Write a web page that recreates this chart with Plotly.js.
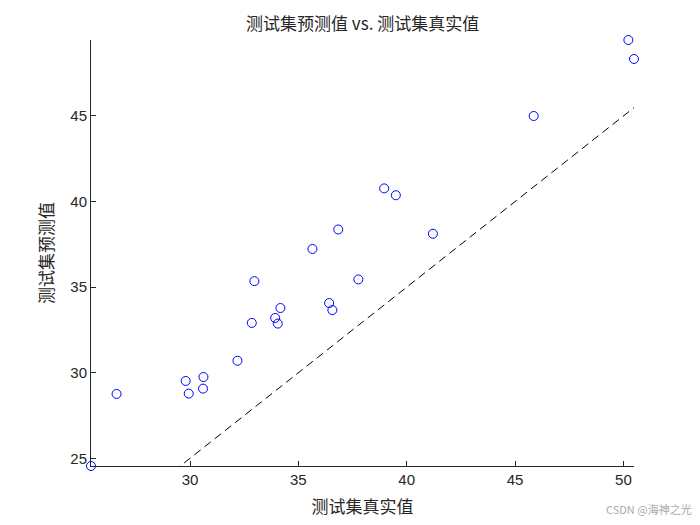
<!DOCTYPE html>
<html>
<head>
<meta charset="utf-8">
<script src="https://cdn.plot.ly/plotly-3.0.1.min.js"></script>
<style>html,body{margin:0;padding:0;background:#fff;}#chart{width:700px;height:525px;}</style>
</head>
<body>
<div id="chart"></div>
<script>
// True values (x) and predicted values (y)
const trueVals = [50.23, 50.49, 45.86, 38.96, 39.50, 36.84, 35.65, 41.21, 32.97, 37.77,
                  36.42, 36.57, 34.17, 33.93, 34.05, 32.85, 32.19, 26.61, 29.80, 30.62,
                  29.94, 30.60, 25.43];
const predVals = [49.44, 48.33, 45.00, 40.77, 40.37, 38.37, 37.23, 38.12, 35.35, 35.45,
                  34.07, 33.66, 33.78, 33.20, 32.87, 32.91, 30.70, 28.76, 29.52, 29.75,
                  28.78, 29.07, 24.55];
// Reference dashed line end points
const refLineX = [24.55, 50.49];
const refLineY = [19.55, 45.49];
const xTicks = [30, 35, 40, 45, 50];
const yTicks = [25, 30, 35, 40, 45];

const cjk = '"Noto Sans CJK SC", "Noto Sans", sans-serif';
const latin = '"Liberation Sans", Arial, sans-serif';
const axisColor = '#262626';

const traces = [
  {
    x: trueVals, y: predVals, mode: 'markers', type: 'scatter',
    marker: {symbol: 'circle-open', size: 9, color: '#0000ff', line: {width: 1, color: '#0000ff'}},
    cliponaxis: false, showlegend: false, hoverinfo: 'none'
  },
  {
    x: refLineX, y: refLineY, mode: 'lines', type: 'scatter',
    line: {color: '#000000', width: 1, dash: '8px,5px'},
    showlegend: false, hoverinfo: 'none'
  }
];

const layout = {
  width: 700, height: 525,
  margin: {l: 91, r: 66, t: 40, b: 59},
  paper_bgcolor: '#ffffff', plot_bgcolor: '#ffffff',
  showlegend: false,
  title: {
    text: '测试集预测值 vs. 测试集真实值',
    font: {family: cjk, size: 17, color: '#262626'},
    x: 0.518, xanchor: 'center', y: 0.955, yanchor: 'middle'
  },
  xaxis: {
    range: [Math.min(...trueVals), Math.max(...trueVals)],
    tickvals: xTicks, ticktext: xTicks.map(String),
    ticks: 'inside', ticklen: 5, tickwidth: 1, tickcolor: axisColor,
    showline: true, linecolor: axisColor, linewidth: 1, mirror: false,
    showgrid: false, zeroline: false,
    tickfont: {family: latin, size: 15, color: axisColor},
    title: {text: '测试集真实值', font: {family: cjk, size: 17, color: axisColor}, standoff: 14}
  },
  yaxis: {
    range: [Math.min(...predVals), Math.max(...predVals)],
    tickvals: yTicks, ticktext: yTicks.map(String),
    ticks: 'inside', ticklen: 5, tickwidth: 1, tickcolor: axisColor,
    showline: true, linecolor: axisColor, linewidth: 1, mirror: false,
    showgrid: false, zeroline: false,
    tickfont: {family: latin, size: 15, color: axisColor},
    title: {text: '测试集预测值', font: {family: cjk, size: 17, color: axisColor}, standoff: 12}
  },
  annotations: [{
    text: 'CSDN @海神之光', xref: 'paper', yref: 'paper',
    x: 1.11, y: -0.1, xanchor: 'right', yanchor: 'middle', showarrow: false,
    font: {family: cjk, size: 11, color: '#aaaaaa'}
  }]
};

Plotly.newPlot('chart', traces, layout, {displayModeBar: false, staticPlot: true});
</script>
</body>
</html>
